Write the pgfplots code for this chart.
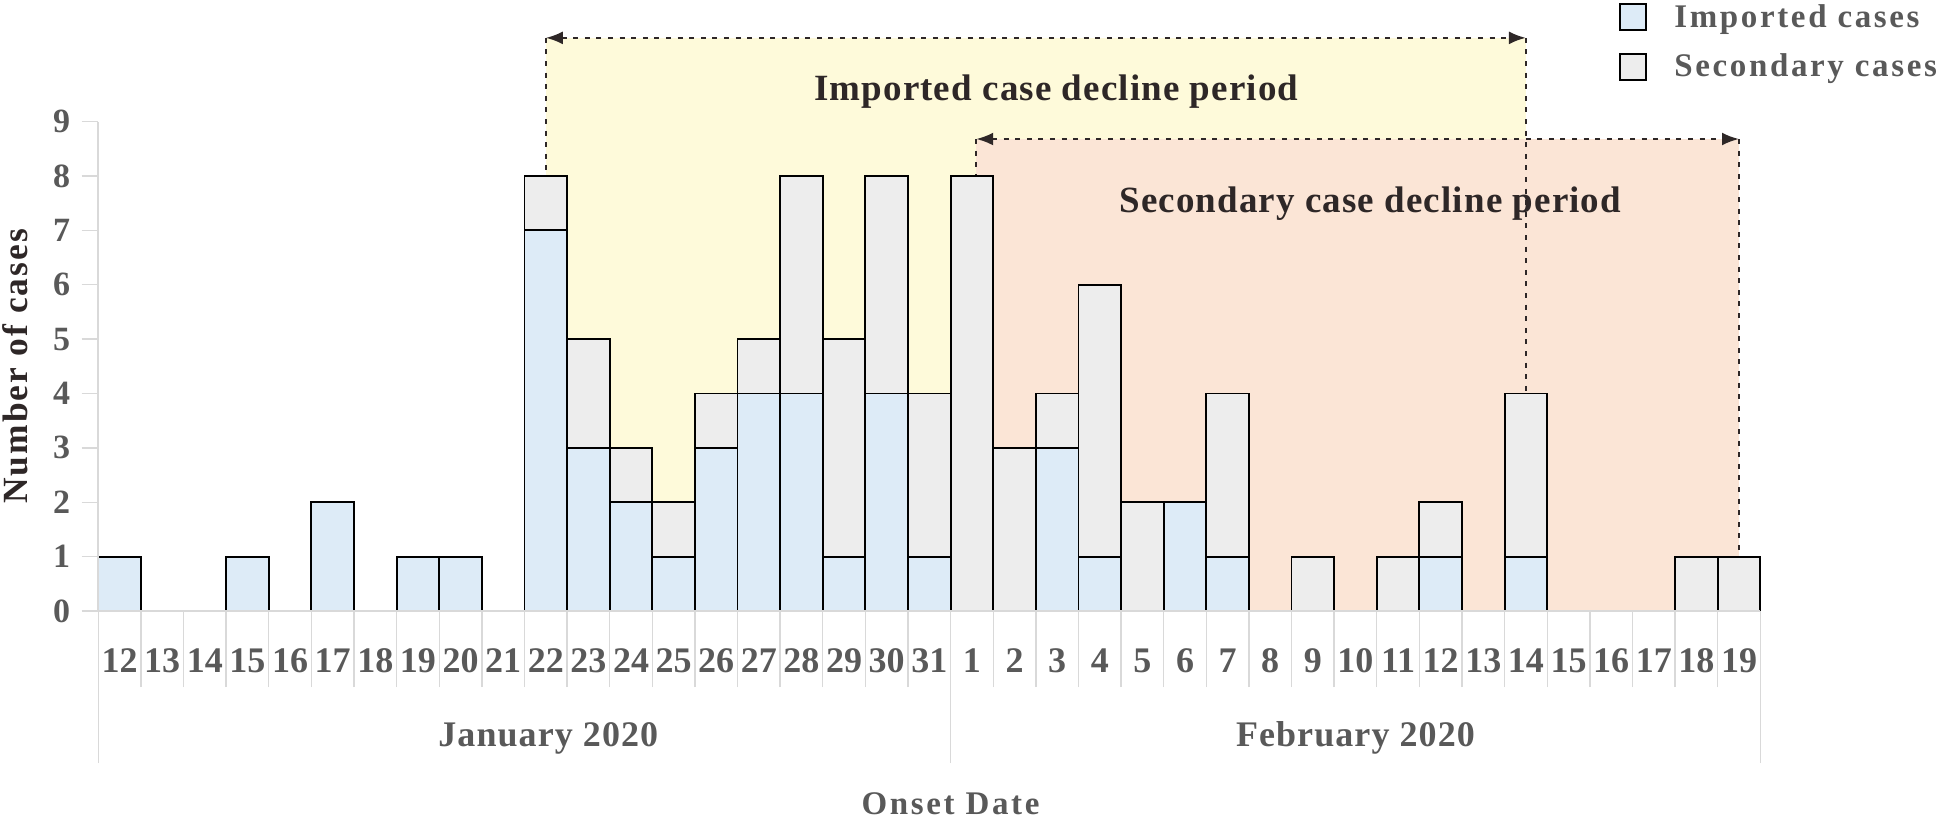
\documentclass[border=0pt]{standalone}
\usepackage{fontspec}
\setmainfont{Liberation Serif}
\newfontfamily\spA{Liberation Serif}[LetterSpace=3]
\newfontfamily\spB{Liberation Serif}[LetterSpace=6]
\newfontfamily\spC{Liberation Serif}[LetterSpace=8]
\usepackage{pgfplots}
\usepackage{pgfplotstable}
\pgfplotsset{compat=1.18}
\usetikzlibrary{arrows.meta}
\definecolor{impc}{HTML}{DDEBF7}
\definecolor{secc}{HTML}{EDEDED}
\definecolor{yelc}{HTML}{FEFADA}
\definecolor{pinkc}{HTML}{FBE5D6}
\definecolor{axc}{HTML}{D9D9D9}
\definecolor{txtg}{HTML}{595959}
\definecolor{dark}{HTML}{2E2727}

\pgfplotstableread{
x imp sec
0 1 0
1 0 0
2 0 0
3 1 0
4 0 0
5 2 0
6 0 0
7 1 0
8 1 0
9 0 0
10 7 1
11 3 2
12 2 1
13 1 1
14 3 1
15 4 1
16 4 4
17 1 4
18 4 4
19 1 3
20 0 8
21 0 3
22 3 1
23 1 5
24 0 2
25 2 0
26 1 3
27 0 0
28 0 1
29 0 0
30 0 1
31 1 1
32 0 0
33 1 3
34 0 0
35 0 0
36 0 0
37 0 1
38 0 1
}\casetab

\tikzset{dl/.style={draw=dark, line width=1.2pt, dash pattern=on 2.5pt off 3.3pt}}
\pgfplotsset{frame/.style={at={(0,0)}, anchor=south west,
  scale only axis, width=831pt, height=244.7pt,
  xmin=-0.5, xmax=38.5, ymin=0, ymax=9, enlargelimits=false, clip=false}}

\begin{document}
\begin{tikzpicture}
% background periods
\begin{axis}[frame, hide axis]
\fill[yelc] (axis cs:10,0) rectangle (axis cs:33,10.54);
\fill[pinkc] (axis cs:20.1,0) rectangle (axis cs:38,8.68);
\end{axis}
\begin{axis}[
  frame,
  ybar stacked, bar width=1,
  axis on top,
  axis lines*=left,
  axis line style={draw=axc, line width=1pt},
  tick style={draw=axc, line width=0.7pt},
  tick align=outside,
  xtick={-0.5,0.5,...,38.5},
  x tick label as interval,
  xticklabels={12,13,14,15,16,17,18,19,20,21,22,23,24,25,26,27,28,29,30,31,1,2,3,4,5,6,7,8,9,10,11,12,13,14,15,16,17,18,19},
  major tick length=38pt,
  minor xtick={-0.5,19.5,38.5},
  minor tick length=76pt,
  xticklabel style={font=\fontsize{18}{20}\selectfont\bfseries, text=txtg, anchor=center, yshift=13pt},
  ytick=\empty,
  extra y ticks={0,1,2,3,4,5,6,7,8,9},
  extra y tick style={major tick length=8.3pt, tick align=outside},
  /pgf/number format/assume math mode=true,
  yticklabel style={font=\fontsize{17}{18}\selectfont\bfseries, text=txtg, anchor=center, xshift=-10pt},
  ylabel={\spB Number of cases},
  ylabel style={at={(axis description cs:-0.0501,0.5)}, anchor=center, font=\fontsize{17.7}{20}\selectfont\bfseries, text=dark},
  xlabel={\spC Onset Date},
  xlabel style={at={(axis description cs:0.5128,-0.4167)}, anchor=base, font=\fontsize{16.5}{18}\selectfont\bfseries, text=txtg},
  legend style={at={(axis description cs:0.915,1.1627)}, anchor=west, draw=none, fill=none,
    font=\fontsize{16.5}{18}\selectfont\bfseries, text=txtg, row sep=7.7pt, inner sep=0pt},
  legend cell align=left,
  legend image code/.code={\draw[#1, draw=black, line width=0.9pt] (0pt,-6.5pt) rectangle (13pt,6.5pt); \path[draw=none, fill=none] (0pt,0pt) rectangle (25pt,0.1pt);},
]
\addplot[fill=impc, draw=black, line width=0.9pt] table[x=x, y=imp] {\casetab};
\addlegendentry{\spC Imported cases}
\addplot[fill=secc, draw=black, line width=0.9pt] table[x=x, y=sec] {\casetab};
\addlegendentry{\spC Secondary cases}
\draw[dl] (axis cs:10,10.54) -- (axis cs:10,8);
\draw[dl] (axis cs:33,10.54) -- (axis cs:33,4);
\draw[dl] (axis cs:20.1,8.68) -- (axis cs:20.1,8);
\draw[dl] (axis cs:38,8.68) -- (axis cs:38,1);
\draw[dl, {Latex[length=8.5pt,width=6.5pt]}-{Latex[length=8.5pt,width=6.5pt]}] (axis cs:10,10.54) -- (axis cs:33,10.54);
\draw[dl, {Latex[length=8.5pt,width=6.5pt]}-{Latex[length=8.5pt,width=6.5pt]}] (axis cs:20.1,8.68) -- (axis cs:38,8.68);
\node[anchor=base, font=\fontsize{18.5}{20}\selectfont\bfseries\spA, text=dark] at (axis cs:21.98,9.38) {Imported case decline period};
\node[anchor=base, font=\fontsize{18.5}{20}\selectfont\bfseries\spA, text=dark] at (axis cs:29.35,7.32) {Secondary case decline period};
\node[anchor=base, font=\fontsize{18}{20}\selectfont\bfseries\spA, text=txtg] at (axis cs:10.06,-2.495) {January 2020};
\node[anchor=base, font=\fontsize{18}{20}\selectfont\bfseries\spA, text=txtg] at (axis cs:29,-2.495) {February 2020};
\end{axis}
\pgfresetboundingbox
\path[use as bounding box] (-49.15pt,-104pt) rectangle (923.85pt,305.5pt);
\end{tikzpicture}
\end{document}
